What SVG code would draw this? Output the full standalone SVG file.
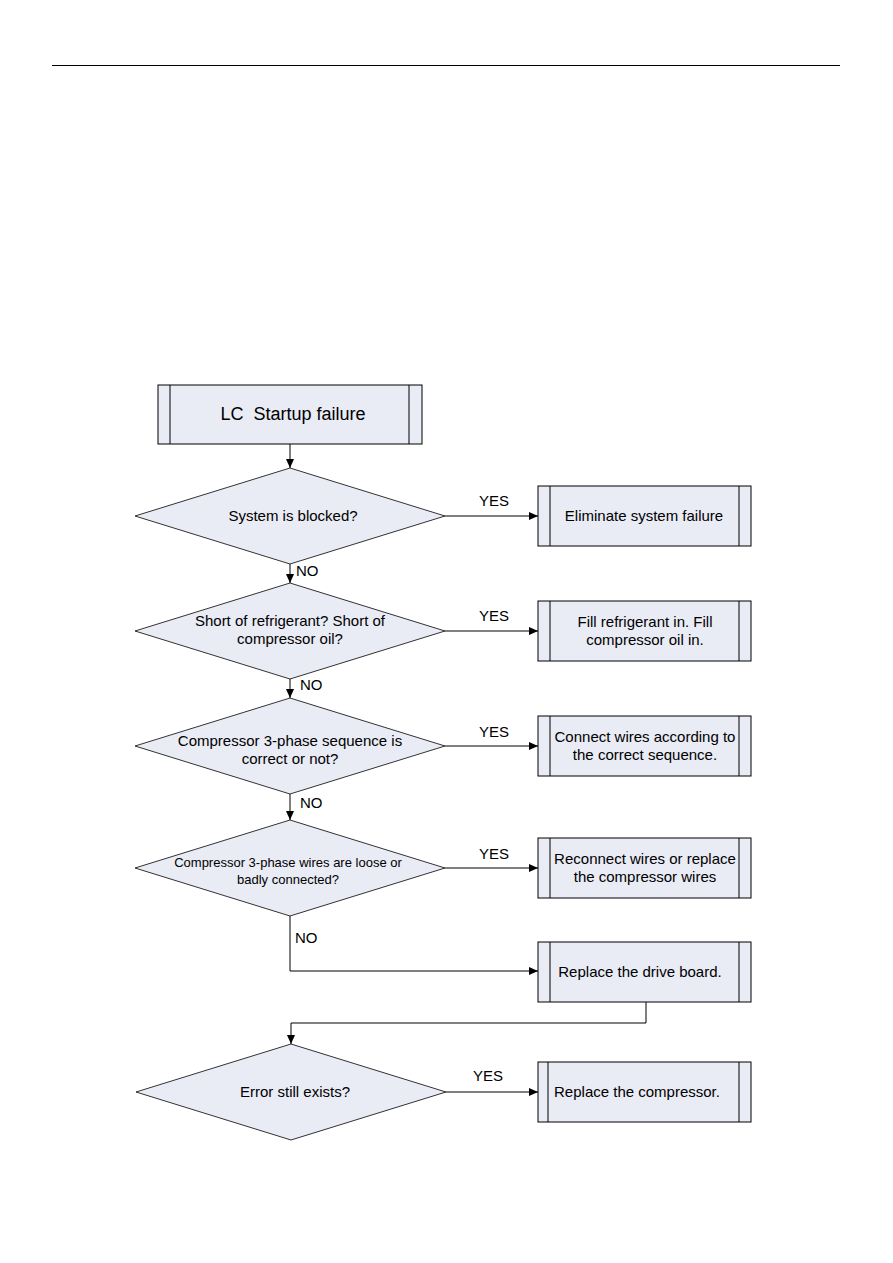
<svg xmlns="http://www.w3.org/2000/svg" width="893" height="1263" viewBox="0 0 893 1263">
<defs>
<marker id="arr" markerWidth="10" markerHeight="8" refX="9" refY="4" orient="auto" markerUnits="userSpaceOnUse">
<path d="M0,0 L9,4 L0,8 Z" fill="#000"/>
</marker>
<style>
.box{fill:#e9ebf5;stroke:#000;stroke-width:1}
.dia{fill:#e9ebf5;stroke:#000;stroke-width:0.8}
.in{stroke:#000;stroke-width:1}
.t{font-family:"Liberation Sans",Arial,sans-serif;font-size:15px;fill:#000;text-anchor:middle}
.lab{font-family:"Liberation Sans",Arial,sans-serif;font-size:15px;fill:#000}
.c{fill:none;stroke:#000;stroke-width:1}
</style>
</defs>
<rect width="893" height="1263" fill="#fff"/>
<line x1="52" y1="65.5" x2="840" y2="65.5" stroke="#000" stroke-width="1.2"/>

<g id="connectors">
<line class="c" x1="290" y1="444" x2="290" y2="468" marker-end="url(#arr)"/>
<line class="c" x1="445" y1="516" x2="538" y2="516" marker-end="url(#arr)"/>
<line class="c" x1="290" y1="564" x2="290" y2="583" marker-end="url(#arr)"/>
<line class="c" x1="445" y1="631" x2="538" y2="631" marker-end="url(#arr)"/>
<line class="c" x1="290" y1="679" x2="290" y2="698" marker-end="url(#arr)"/>
<line class="c" x1="445" y1="746" x2="538" y2="746" marker-end="url(#arr)"/>
<line class="c" x1="290" y1="794" x2="290" y2="820" marker-end="url(#arr)"/>
<line class="c" x1="445" y1="868" x2="538" y2="868" marker-end="url(#arr)"/>
<polyline class="c" points="290,916 290,971 538,971" marker-end="url(#arr)"/>
<polyline class="c" points="646,1002 646,1023 291,1023 291,1044" marker-end="url(#arr)"/>
<line class="c" x1="446" y1="1092" x2="538" y2="1092" marker-end="url(#arr)"/>
<text class="lab" x="479" y="506">YES</text>
<text class="lab" x="479" y="621">YES</text>
<text class="lab" x="479" y="737">YES</text>
<text class="lab" x="479" y="859">YES</text>
<text class="lab" x="473" y="1081">YES</text>
<text class="lab" x="296" y="576">NO</text>
<text class="lab" x="300" y="690">NO</text>
<text class="lab" x="300" y="808">NO</text>
<text class="lab" x="295" y="943">NO</text>
</g>

<g id="start">
<rect class="box" x="158" y="385" width="264" height="59"/>
<line class="in" x1="170" y1="385" x2="170" y2="444"/>
<line class="in" x1="409" y1="385" x2="409" y2="444"/>
<text class="t" x="293" y="420" style="font-size:18px" xml:space="preserve">LC  Startup failure</text>
</g>

<g id="d1">
<polygon class="dia" points="290,468 445,516 290,564 135,516"/>
<text class="t" x="293" y="521">System is blocked?</text>
</g>
<g id="b1">
<rect class="box" x="538" y="486" width="213" height="60"/>
<line class="in" x1="550" y1="486" x2="550" y2="546"/>
<line class="in" x1="739" y1="486" x2="739" y2="546"/>
<text class="t" x="644" y="521">Eliminate system failure</text>
</g>

<g id="d2">
<polygon class="dia" points="290,583 445,631 290,679 135,631"/>
<text class="t" x="290" y="626">Short of refrigerant? Short of</text>
<text class="t" x="290" y="644">compressor oil?</text>
</g>
<g id="b2">
<rect class="box" x="538" y="601" width="213" height="60"/>
<line class="in" x1="550" y1="601" x2="550" y2="661"/>
<line class="in" x1="739" y1="601" x2="739" y2="661"/>
<text class="t" x="645" y="627">Fill refrigerant in. Fill</text>
<text class="t" x="645" y="645">compressor oil in.</text>
</g>

<g id="d3">
<polygon class="dia" points="290,698 445,746 290,794 135,746"/>
<text class="t" x="290" y="746">Compressor 3-phase sequence is</text>
<text class="t" x="290" y="764">correct or not?</text>
</g>
<g id="b3">
<rect class="box" x="538" y="716" width="213" height="60"/>
<line class="in" x1="550" y1="716" x2="550" y2="776"/>
<line class="in" x1="739" y1="716" x2="739" y2="776"/>
<text class="t" x="645" y="742">Connect wires according to</text>
<text class="t" x="645" y="760">the correct sequence.</text>
</g>

<g id="d4">
<polygon class="dia" points="290,820 445,868 290,916 135,868"/>
<text class="t" x="288" y="867" style="font-size:13px">Compressor 3-phase wires are loose or</text>
<text class="t" x="288" y="884" style="font-size:13px">badly connected?</text>
</g>
<g id="b4">
<rect class="box" x="538" y="838" width="213" height="60"/>
<line class="in" x1="550" y1="838" x2="550" y2="898"/>
<line class="in" x1="739" y1="838" x2="739" y2="898"/>
<text class="t" x="645" y="864">Reconnect wires or replace</text>
<text class="t" x="645" y="882">the compressor wires</text>
</g>

<g id="b5">
<rect class="box" x="538" y="942" width="213" height="60"/>
<line class="in" x1="550" y1="942" x2="550" y2="1002"/>
<line class="in" x1="739" y1="942" x2="739" y2="1002"/>
<text class="t" x="640" y="977">Replace the drive board.</text>
</g>

<g id="d5">
<polygon class="dia" points="291,1044 446,1092 291,1140 136,1092"/>
<text class="t" x="295" y="1097">Error still exists?</text>
</g>
<g id="b6">
<rect class="box" x="538" y="1062" width="213" height="60"/>
<line class="in" x1="548" y1="1062" x2="548" y2="1122"/>
<line class="in" x1="739" y1="1062" x2="739" y2="1122"/>
<text class="t" x="637" y="1097">Replace the compressor.</text>
</g>
</svg>
